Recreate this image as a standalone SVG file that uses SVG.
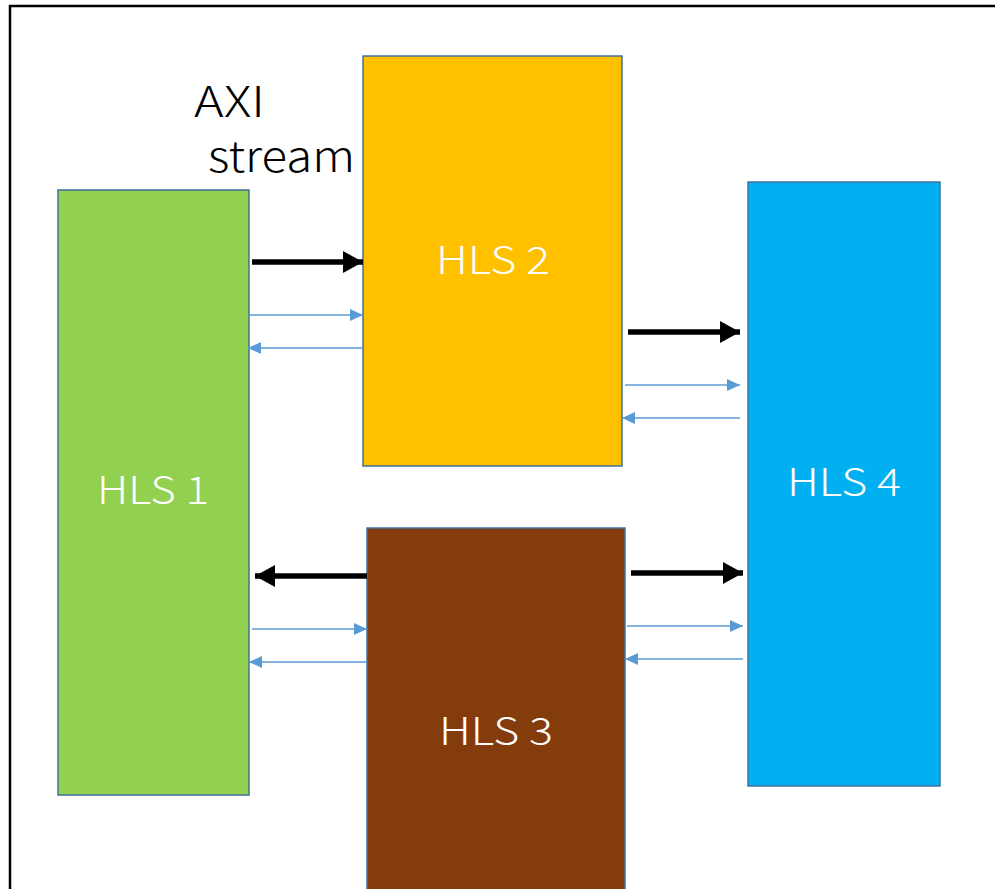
<svg xmlns="http://www.w3.org/2000/svg" width="995" height="889" viewBox="0 0 995 889">
<style>
.box{stroke:#41719C;stroke-width:1.5}
.lbl{font-family:"Noto Sans CJK JP","Noto Sans",sans-serif;font-weight:300;font-size:38px;fill:#fff;text-anchor:middle;dominant-baseline:central}
.axi{font-family:"Noto Sans CJK JP","Noto Sans",sans-serif;font-weight:300;font-size:43px;fill:#000}
.thick{stroke:#000;stroke-width:5.5;fill:none}
.thin{stroke:#5B9BD5;stroke-width:1.5;fill:none}
</style>
<defs>
<marker id="hb" markerUnits="userSpaceOnUse" markerWidth="22" markerHeight="22" refX="20" refY="11" orient="auto"><path d="M0,0 L20,11 L0,22 Z" fill="#000"/></marker>
<marker id="hs" markerUnits="userSpaceOnUse" markerWidth="14" markerHeight="14" refX="13" refY="6" orient="auto"><path d="M0,0 L13,6 L0,12 Z" fill="#5B9BD5"/></marker>
</defs>
<rect x="0" y="0" width="995" height="889" fill="#fff"/>
<rect x="10" y="6" width="1000" height="900" fill="none" stroke="#000" stroke-width="2.5"/>
<text class="axi" x="194" y="117" textLength="71" lengthAdjust="spacingAndGlyphs">AXI</text>
<text class="axi" x="208" y="172" textLength="147" lengthAdjust="spacingAndGlyphs">stream</text>
<g id="hls1"><rect class="box" x="58" y="190" width="191" height="605" fill="#92D050"/><text class="lbl" x="153" y="487" textLength="112" lengthAdjust="spacingAndGlyphs">HLS 1</text></g>
<g id="hls2"><rect class="box" x="363" y="56" width="259" height="410" fill="#FFC000"/><text class="lbl" x="493" y="257" textLength="114" lengthAdjust="spacingAndGlyphs">HLS 2</text></g>
<g id="hls3"><rect class="box" x="367" y="528" width="258" height="380" fill="#843C0C"/><text class="lbl" x="496" y="728" textLength="114" lengthAdjust="spacingAndGlyphs">HLS 3</text></g>
<g id="hls4"><rect class="box" x="748" y="182" width="192" height="604" fill="#00B0F0"/><text class="lbl" x="844" y="479" textLength="114" lengthAdjust="spacingAndGlyphs">HLS 4</text></g>
<g id="connectors">
<line class="thick" x1="252" y1="262" x2="363" y2="262" marker-end="url(#hb)"/>
<line class="thin" x1="249" y1="315" x2="363" y2="315" marker-end="url(#hs)"/>
<line class="thin" x1="363" y1="348" x2="248" y2="348" marker-end="url(#hs)"/>
<line class="thick" x1="628" y1="332" x2="740" y2="332" marker-end="url(#hb)"/>
<line class="thin" x1="625" y1="385" x2="740" y2="385" marker-end="url(#hs)"/>
<line class="thin" x1="740" y1="418" x2="622" y2="418" marker-end="url(#hs)"/>
<line class="thick" x1="367" y1="576" x2="255" y2="576" marker-end="url(#hb)"/>
<line class="thin" x1="252" y1="629" x2="367" y2="629" marker-end="url(#hs)"/>
<line class="thin" x1="367" y1="662" x2="249" y2="662" marker-end="url(#hs)"/>
<line class="thick" x1="631" y1="573" x2="743" y2="573" marker-end="url(#hb)"/>
<line class="thin" x1="627" y1="626" x2="743" y2="626" marker-end="url(#hs)"/>
<line class="thin" x1="743" y1="659" x2="625" y2="659" marker-end="url(#hs)"/>
</g>
</svg>
